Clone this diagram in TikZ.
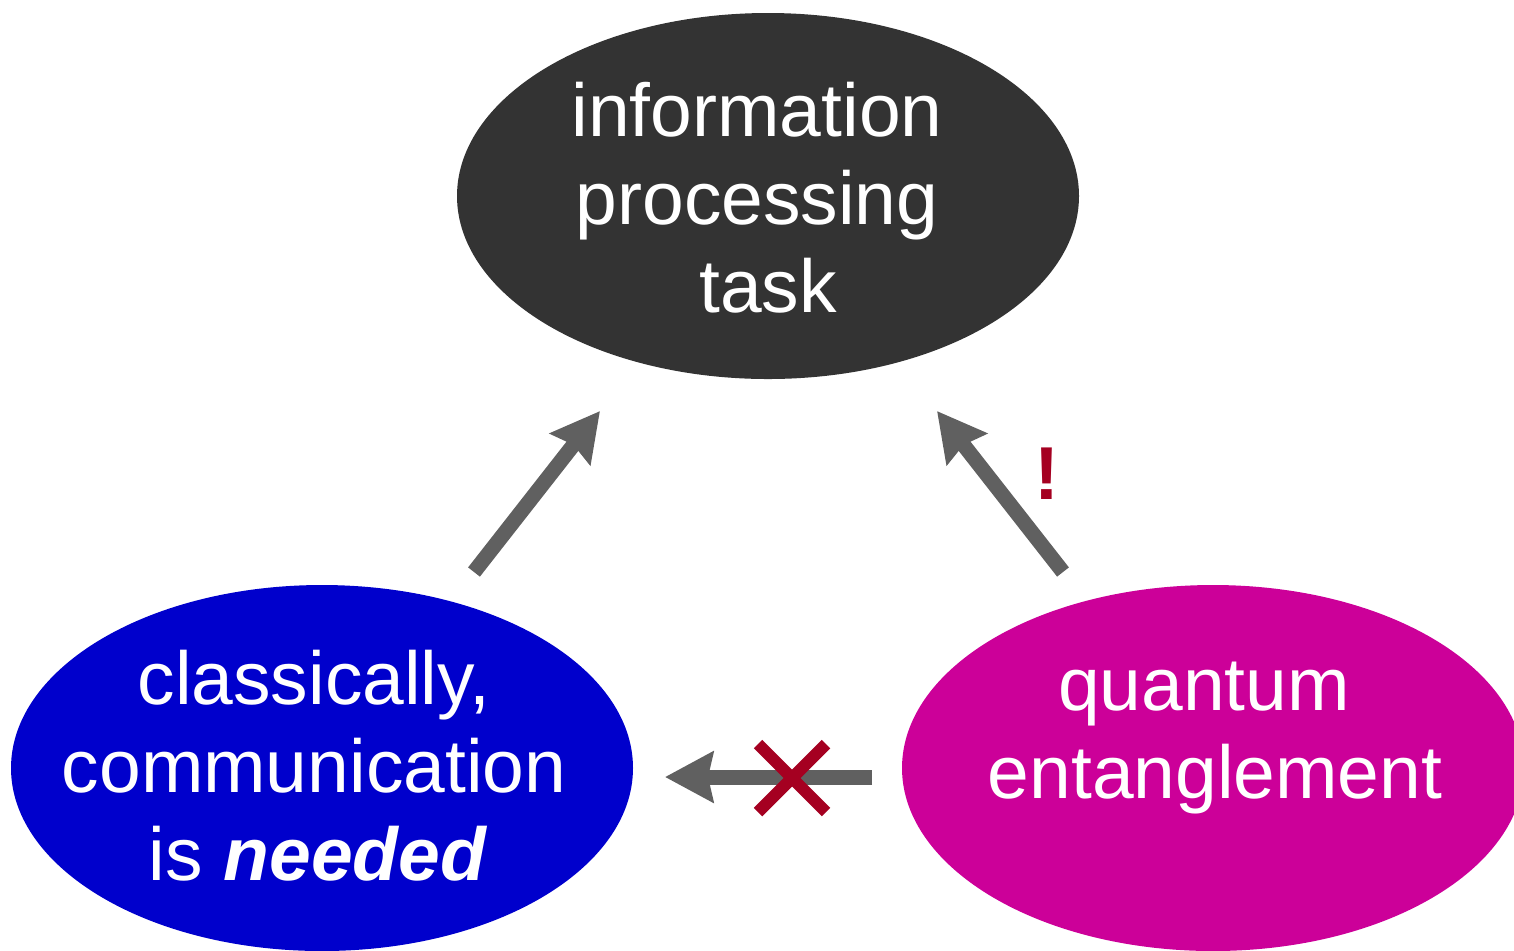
\documentclass[tikz,border=0pt]{standalone}
\usepackage{fontspec}
\setmainfont{Liberation Sans}
\usetikzlibrary{shapes.geometric,arrows.meta}
\definecolor{topc}{HTML}{333333}
\definecolor{bluec}{HTML}{0000CC}
\definecolor{magc}{HTML}{CC0099}
\definecolor{arrc}{HTML}{606060}
\definecolor{redc}{HTML}{A50021}
\begin{document}
\begin{tikzpicture}[x=0.5pt,y=-0.5pt,
  blob/.style={ellipse,minimum width=311pt,minimum height=183pt,inner sep=0pt,draw=none},
  lbl/.style={text=white,align=center,font=\fontsize{37.5pt}{44pt}\selectfont,inner sep=0pt},
  arr/.style={line width=7.5pt,draw=arrc,-{Stealth[length=24pt,width=25pt,inset=2.5pt]}},
  cross/.style={line width=6pt,draw=redc}]
\useasboundingbox (0,0) rectangle (1514,950);
\clip (0,0) rectangle (1514,950);
\node[blob,fill=topc] (task) at (768,196) {};
\node[blob,fill=bluec] (classical) at (322,768) {};
\node[blob,fill=magc] (quantum) at (1213,768) {};
\node[lbl] (tasktxt) at (757,198) {information\\processing\\\hspace*{11pt}task};
\node[lbl] (classtxt) at (314,766) {classically,\\communication\\\hspace*{4pt}is \textbf{\textit{needed}}};
\node[lbl] (quanttxt) at (1215,738) {quantum\hspace*{11pt}\\entanglement};
\coordinate (a1s) at (474,572);
\coordinate (a1e) at (600,411);
\coordinate (a2s) at (1063,572);
\coordinate (a2e) at (937,411);
\coordinate (a3s) at (872,777);
\coordinate (a3e) at (665,777);
\draw[arr] (a1s) -- (a1e);
\draw[arr] (a2s) -- (a2e);
\draw[arr] (a3s) -- (a3e);
\coordinate (x1) at (758,744);
\coordinate (x2) at (826,812);
\coordinate (x3) at (826,744);
\coordinate (x4) at (758,812);
\draw[cross] (x1) -- (x2);
\draw[cross] (x3) -- (x4);
\node[text=redc,font=\fontsize{37.5pt}{44pt}\selectfont\bfseries,inner sep=0pt] (bang) at (1047,474) {!};
\end{tikzpicture}
\end{document}
